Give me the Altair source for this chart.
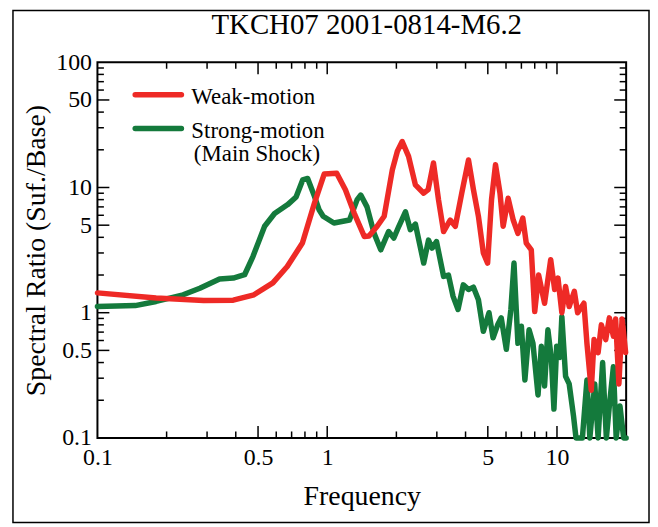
import altair as alt
import pandas as pd

TITLE = "TKCH07 2001-0814-M6.2"
X_TITLE = "Frequency"
Y_TITLE = "Spectral Ratio (Suf./Base)"

series_names = ["Weak-motion", "Strong-motion"]
series_sublabel = ["", "(Main Shock)"]
series_colors = ["#ee2a26", "#147a3c"]

weak_freq = [0.10, 0.18, 0.29, 0.39, 0.48, 0.58, 0.67, 0.78, 0.88, 0.97, 1.10, 1.20,
             1.31, 1.45, 1.52, 1.65, 1.77, 1.92, 2.02, 2.12, 2.26, 2.42, 2.63, 2.75,
             2.90, 3.05, 3.21, 3.43, 3.61, 3.85, 4.12, 4.33, 4.55, 4.78, 4.99, 5.19,
             5.40, 5.65, 5.83, 6.13, 6.45, 6.76, 7.10, 7.35, 7.73, 8.00, 8.32, 8.83,
             9.39, 9.77, 10.1, 10.5, 10.9, 11.3, 11.9, 12.3, 13.1, 13.5, 14.1, 14.5,
             15.1, 15.6, 16.3, 16.9, 17.6, 18.0, 18.6, 19.2, 19.9]
weak_ratio = [1.44, 1.31, 1.25, 1.26, 1.39, 1.73, 2.34, 3.6, 7.5, 12.8, 13.0, 9.6,
              6.25, 4.06, 4.1, 4.9, 5.9, 13.8, 19.5, 23.3, 17.7, 10.5, 9.0, 9.6,
              15.7, 8.0, 4.45, 5.5, 4.9, 9.0, 16.6, 9.6, 5.9, 3.0, 2.49, 8.0,
              15.2, 9.0, 4.9, 8.2, 5.5, 4.3, 5.7, 3.6, 3.18, 1.02, 2.0, 1.19,
              2.65, 1.53, 1.89, 1.0, 1.62, 1.12, 1.48, 1.0, 1.19, 0.57, 0.24, 0.61,
              0.48, 0.80, 0.61, 0.91, 0.65, 0.89, 0.27, 0.89, 0.48]

strong_freq = [0.10, 0.146, 0.18, 0.236, 0.279, 0.34, 0.39, 0.437, 0.475, 0.534, 0.59,
               0.673, 0.732, 0.782, 0.822, 0.88, 0.923, 0.96, 1.07, 1.25, 1.35, 1.40,
               1.49, 1.60, 1.71, 1.85, 1.95, 2.05, 2.19, 2.30, 2.42, 2.63, 2.76, 2.86,
               2.99, 3.21, 3.37, 3.53, 3.71, 3.91, 4.12, 4.33, 4.55, 4.78, 5.06, 5.27,
               5.52, 5.72, 6.02, 6.30, 6.50, 6.76, 7.00, 7.25, 7.56, 7.86, 8.27, 8.55,
               8.83, 9.13, 9.45, 9.70, 9.97, 10.3, 10.5, 10.9, 11.3, 11.8, 12.1, 12.9,
               13.5, 13.9, 14.6, 15.1, 15.8, 16.4, 16.9, 17.6, 18.1, 18.8, 19.5, 20.0]
strong_ratio = [1.12, 1.14, 1.23, 1.39, 1.57, 1.86, 1.89, 2.01, 2.81, 4.9, 6.2,
                7.3, 8.4, 11.5, 11.8, 8.5, 6.6, 5.9, 5.2, 5.5, 8.0, 8.7,
                7.0, 4.3, 3.18, 4.45, 3.95, 4.9, 6.4, 4.6, 5.1, 2.49, 3.8, 3.28,
                3.7, 1.95, 2.0, 1.35, 1.06, 1.67, 1.53, 1.6, 1.27, 0.71, 1.0, 0.63,
                0.8, 0.91, 0.51, 1.06, 2.49, 0.57, 0.78, 0.29, 0.73, 0.57, 0.22, 0.54,
                0.26, 0.73, 0.43, 0.17, 0.54, 0.44, 0.93, 0.31, 0.27, 0.15, 0.1, 0.1,
                0.29, 0.1, 0.27, 0.1, 0.40, 0.1, 0.18, 0.37, 0.1, 0.18, 0.1, 0.1]

x_label_values = [0.1, 0.5, 1, 5, 10]
y_label_values = [0.1, 0.5, 1, 5, 10, 50, 100]
x_major_ticks = [0.5, 1, 5, 10]
x_minor_ticks = [0.2, 0.3, 0.4, 0.6, 0.7, 0.8, 0.9, 2, 3, 4, 6, 7, 8, 9]
y_major_ticks = [0.5, 1, 5, 10, 50]
y_minor_ticks = [0.2, 0.3, 0.4, 0.6, 0.7, 0.8, 0.9, 2, 3, 4, 6, 7, 8, 9,
                 20, 30, 40, 60, 70, 80, 90]

W, H = 532, 378
FONT = "Liberation Serif"
MAJOR_LEN, MINOR_LEN = 12, 6.5
LINE_W = 5.5

weak_df = pd.DataFrame({"freq": weak_freq, "ratio": weak_ratio, "series": series_names[0]})
strong_df = pd.DataFrame({"freq": strong_freq, "ratio": strong_ratio, "series": series_names[1]})
one_row = pd.DataFrame({"k": [0]})

xscale = alt.Scale(type="log", domain=[0.1, 20], nice=False)
yscale = alt.Scale(type="log", domain=[0.1, 100], nice=False)
cscale = alt.Scale(domain=series_names, range=series_colors)

x_axis = alt.Axis(values=x_label_values, format="~g", ticks=False, domain=False, grid=False,
                  labelFont=FONT, labelFontSize=24, labelColor="black", labelPadding=8,
                  labelFlush=False, labelOverlap=False,
                  title=X_TITLE, titleFont=FONT, titleFontSize=28, titleFontWeight="normal",
                  titleColor="black", titlePadding=13)
y_axis = alt.Axis(values=y_label_values, format="~g", ticks=False, domain=False, grid=False,
                  labelFont=FONT, labelFontSize=24, labelColor="black", labelPadding=6,
                  labelFlush=False, labelOverlap=False,
                  title=Y_TITLE, titleFont=FONT, titleFontSize=28, titleFontWeight="normal",
                  titleColor="black", titlePadding=5)


def series_layer(df):
    return alt.Chart(df).mark_line(strokeWidth=LINE_W, strokeJoin="round", strokeCap="round").encode(
        x=alt.X("freq:Q", scale=xscale, axis=x_axis, title=X_TITLE),
        y=alt.Y("ratio:Q", scale=yscale, axis=y_axis, title=Y_TITLE),
        color=alt.Color("series:N", scale=cscale, legend=None),
    )


def tick_layer(values, channel, side, length):
    data = pd.DataFrame({"freq": values, "ratio": values})
    if channel == "x":
        enc = dict(x=alt.X("freq:Q", scale=xscale, axis=x_axis, title=X_TITLE))
        if side == "bottom":
            enc.update(y=alt.value(H), y2=alt.value(H - length))
        else:
            enc.update(y=alt.value(0), y2=alt.value(length))
    else:
        enc = dict(y=alt.Y("ratio:Q", scale=yscale, axis=y_axis, title=Y_TITLE))
        if side == "left":
            enc.update(x=alt.value(0), x2=alt.value(length))
        else:
            enc.update(x=alt.value(W), x2=alt.value(W - length))
    return alt.Chart(data).mark_rule(color="black", strokeWidth=1.5).encode(**enc)


# legend (drawn as a guide inside the plot area)
LEG_X0, LEG_X1, LEG_TX = 38, 84.5, 94.5
legend_rows = [(32.7, 41.7), (66.7, 76.0)]
legend_layers = []
for i, name in enumerate(series_names):
    ly, ty = legend_rows[i]
    legend_layers.append(
        alt.Chart(one_row).mark_rule(color=series_colors[i], strokeWidth=LINE_W, strokeCap="round")
        .encode(x=alt.value(LEG_X0), x2=alt.value(LEG_X1), y=alt.value(ly))
    )
    legend_layers.append(
        alt.Chart(one_row).mark_text(text=name, font=FONT, fontSize=23, align="left",
                                     baseline="alphabetic", color="black")
        .encode(x=alt.value(LEG_TX), y=alt.value(ty))
    )
    if series_sublabel[i]:
        legend_layers.append(
            alt.Chart(one_row).mark_text(text=series_sublabel[i], font=FONT, fontSize=23, align="left",
                                         baseline="alphabetic", color="black")
            .encode(x=alt.value(LEG_TX + 2.5), y=alt.value(ty + 23))
        )

frame = alt.Chart(one_row).mark_rect(
    fillOpacity=0, stroke="black", strokeWidth=1.5
).encode(x=alt.value(-85), x2=alt.value(555), y=alt.value(-52), y2=alt.value(463))

ticks = []
for side in ["bottom", "top"]:
    ticks.append(tick_layer(x_major_ticks, "x", side, MAJOR_LEN))
    ticks.append(tick_layer(x_minor_ticks, "x", side, MINOR_LEN))
for side in ["left", "right"]:
    ticks.append(tick_layer(y_major_ticks, "y", side, MAJOR_LEN))
    ticks.append(tick_layer(y_minor_ticks, "y", side, MINOR_LEN))

chart = alt.layer(
    frame,
    *ticks,
    series_layer(strong_df),
    series_layer(weak_df),
    *legend_layers,
).properties(
    width=W, height=H,
    background="white",
    padding={"left": 4, "top": 0, "right": 0, "bottom": 0},
    title=alt.TitleParams(TITLE, font=FONT, fontSize=29, fontWeight="normal", color="black",
                          anchor="middle", frame="group", offset=-30, dx=5),
).configure_view(
    stroke="black", strokeWidth=2
).configure_axis(
    labelFont=FONT, titleFont=FONT
)

chart.save("out.html", embed_options={"renderer": "svg", "actions": False})
